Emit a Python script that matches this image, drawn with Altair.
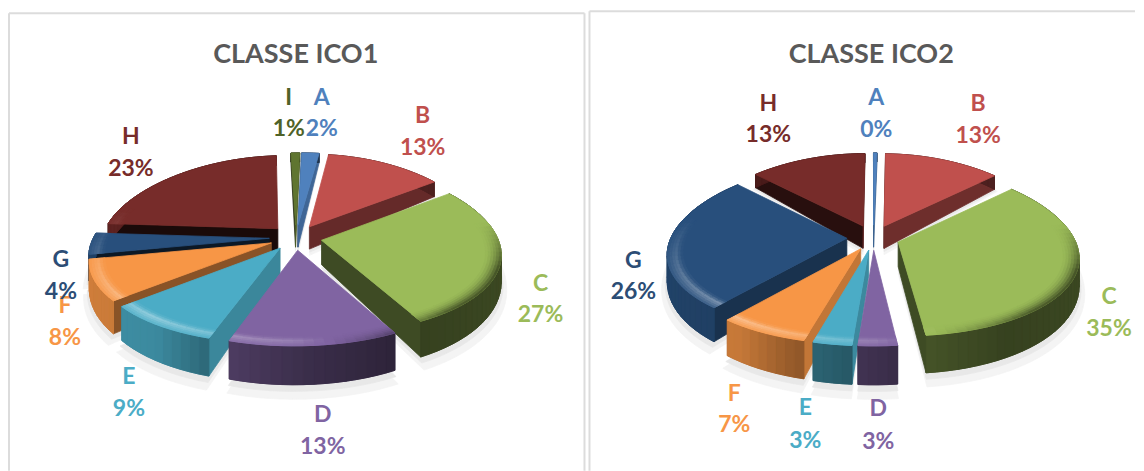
import math
import altair as alt
import pandas as pd

# ---- data ----
categories_1 = ["A", "B", "C", "D", "E", "F", "G", "H", "I"]
values_1 = [2, 13, 27, 13, 9, 8, 4, 23, 1]
categories_2 = ["A", "B", "C", "D", "E", "F", "G", "H"]
values_2 = [0.4, 13, 35, 3, 3, 7, 26, 13]
titles = ["CLASSE ICO1", "CLASSE ICO2"]

# ---- styles ----
colors = {"A": "#4f81bd", "B": "#c0504d", "C": "#9bbb59", "D": "#8064a2", "E": "#4bacc6",
          "F": "#f79646", "G": "#284f7c", "H": "#772c2a", "I": "#5f7530"}
text_colors = dict(colors, G="#2c4d75", I="#4f6228")
title_color = "#595959"
border_color = "#dcdcdc"
FONT = "Lato"

# label anchors (page pixels): category line centre; the percentage sits below it
label_pos_1 = {"A": (322, 98, 129), "B": (423, 116, 148), "C": (541, 284, 315), "D": (323, 415, 447),
               "E": (129, 377, 409), "F": (65, 306, 338), "G": (61, 260, 292), "H": (131, 137, 169),
               "I": (289, 98, 129)}
label_pos_2 = {"A": (877, 98, 130), "B": (979, 104, 136), "C": (1110, 297, 329), "D": (879, 409, 442),
               "E": (806, 408, 441), "F": (735, 394, 425), "G": (634, 261, 292), "H": (769, 104, 135)}

# geometry of the tilted pie
R, EXPL = 176.0, 0.15
CY = 237.5


def mix(c, other, t):
    a = [int(c[i:i + 2], 16) for i in (1, 3, 5)]
    b = [int(other[i:i + 2], 16) for i in (1, 3, 5)]
    return "#" + "".join(f"{round(x + (y - x) * t):02x}" for x, y in zip(a, b))


def interp(v, xs, ys):
    if v <= xs[0]:
        return ys[0]
    for i in range(1, len(xs)):
        if v <= xs[i]:
            return ys[i - 1] + (ys[i] - ys[i - 1]) * (v - xs[i - 1]) / (xs[i] - xs[i - 1])
    return ys[-1]


def proj(cx, x, y, z=0.0, skew=0.0):
    s = 1 + 0.18 * y
    sy = CY + 84 * y + 9 * y * y
    depth = 24 + 13 * y
    return [round(cx + x * R * s + skew * y, 2), round(sy + z * depth, 2)]


def polar(a, r=1.0):
    t = math.radians(a)
    return r * math.sin(t), -r * math.cos(t)


def feature(points, fill):
    ring = points + [points[0]]
    return {"type": "Feature", "properties": {"fill": fill},
            "geometry": {"type": "Polygon", "coordinates": [ring]}}


def arc_angles(a0, a1):
    n = max(2, int((a1 - a0) / 3) + 1)
    return [a0 + (a1 - a0) * i / n for i in range(n + 1)]


def wall_shade(m):
    return interp(m, [0, 90, 150, 175, 198, 215, 260, 300, 360],
                  [.4, .4, .35, .45, .6, .8, .85, .7, .4])


def slice_shapes(cats, vals, cx, skew):
    total = sum(vals)
    slices, acc = [], 0.0
    for c, v in zip(cats, vals):
        a0, a1 = acc / total * 360, (acc + v) / total * 360
        acc += v
        slices.append((c, a0, a1))
    slices.sort(key=lambda s: -math.cos(math.radians((s[1] + s[2]) / 2)))

    shadow, shapes = [], []
    for c, a0, a1 in slices:
        mid = (a0 + a1) / 2
        ox, oy = polar(mid, EXPL)
        angs = arc_angles(a0, a1)
        tip = (ox, oy)

        def pt(a, r=1.0, z=0.0):
            x, y = polar(a, r)
            return proj(cx, ox + x, oy + y, z, skew)

        def tp(z=0.0):
            return proj(cx, tip[0], tip[1], z, skew)

        # soft ground shadow
        for z, g, r in ((1.28, "#f4f4f4", 1.03), (1.14, "#e8e8e8", 1.01)):
            shadow.append(feature([tp(z)] + [pt(a, r, z) for a in angs], g))

        base = colors[c]
        # radial walls
        wall_f = lambda n: interp(n % 360, [90, 110, 145, 175, 190, 240, 360],
                                  [.8, .78, .52, .25, .2, .4, .4])
        for edge, normal in ((a0, a0 - 90), (a1, a1 + 90)):
            if math.cos(math.radians(normal)) < 0.05:
                fill = mix(base, "#000000", 1 - wall_f(normal))
                shapes.append(feature([tp(), pt(edge), pt(edge, 1, 1), tp(1)], fill))
        # outer wall: one solid piece underneath, then shaded by direction
        shapes.append(feature([pt(a) for a in angs] + [pt(a, 1, 1) for a in reversed(angs)],
                              mix(base, "#000000", 1 - wall_shade(mid))))
        for u, w in zip(angs[:-1], angs[1:]):
            m = (u + w) / 2
            shapes.append(feature([pt(u), pt(w), pt(w, 1, 1), pt(u, 1, 1)], mix(base, "#000000", 1 - wall_shade(m))))
        # top face
        shapes.append(feature([tp()] + [pt(a) for a in angs], base))
        # bevel along the front edge
        rings = [0.915, 0.93, 0.945, 0.96, 0.975, 0.99, 1.0]
        prof_up = [0.15, 0.5, 1.0, 0.8, 0.55, 0.35]
        prof_dn = [0.05, 0.15, 0.3, 0.5, 0.75, 1.0]
        for u, w in zip(angs[:-1], angs[1:]):
            m = (u + w) / 2
            shade = interp(m, [78, 110, 140, 165, 180, 220, 250, 285],
                           [0, -.55, -.5, -.1, .18, .38, .2, 0])
            if m < 78 or m > 285 or shade == 0:
                continue
            for k in range(6):
                r0, r1 = rings[k], rings[k + 1]
                if shade > 0:
                    fill = mix(base, "#ffffff", shade * prof_up[k])
                else:
                    fill = mix(base, "#000000", -shade * prof_dn[k])
                shapes.append(feature([pt(u, r0), pt(w, r0), pt(w, r1), pt(u, r1)], fill))
    return shadow + shapes


def pct(v):
    return f"{round(v)}%"


def panel(cats, vals, title, title_x, cx, skew, pos, origin, width, height, top, rule_xs):
    ox0, oy0 = origin
    fc = {"type": "FeatureCollection", "features": slice_shapes(cats, vals, cx - ox0, skew)}
    pie = alt.Chart(alt.InlineData(values=fc, format=alt.JsonDataFormat(property="features"))).mark_geoshape(
        strokeWidth=0.8
    ).encode(
        color=alt.Color("properties.fill:N", scale=None, legend=None),
        stroke=alt.Stroke("properties.fill:N", scale=None, legend=None),
    ).project(type="identity", scale=1, translate=[0, -oy0])

    rows = []
    for c, v in zip(cats, vals):
        x, y1, y2 = pos[c]
        rows.append({"t": c, "x": x - ox0, "y": y1 - oy0, "c": text_colors[c]})
        rows.append({"t": pct(v), "x": x - ox0, "y": y2 - oy0, "c": text_colors[c]})
    labels = alt.Chart(pd.DataFrame(rows)).mark_text(
        font=FONT, fontWeight="bold", fontSize=23, align="center", baseline="middle"
    ).encode(
        x=alt.X("x:Q", scale=None, axis=None),
        y=alt.Y("y:Q", scale=None, axis=None),
        text="t:N",
        color=alt.Color("c:N", scale=None, legend=None),
    )
    head = alt.Chart(pd.DataFrame({"t": [title], "x": [title_x - ox0], "y": [55 - oy0]})).mark_text(
        font=FONT, fontWeight="bold", fontSize=27, color=title_color, align="center", baseline="middle"
    ).encode(
        x=alt.X("x:Q", scale=None, axis=None),
        y=alt.Y("y:Q", scale=None, axis=None),
        text="t:N",
    )
    layers = [pie, labels, head]
    for rx in rule_xs:
        layers.append(alt.Chart(pd.DataFrame({"k": [0]})).mark_rule(color=border_color, strokeWidth=2).encode(
            x=alt.value(rx), y=alt.value(top), y2=alt.value(height)))
    x_end = rule_xs[-1] if len(rule_xs) > 1 else width
    layers.append(alt.Chart(pd.DataFrame({"k": [0]})).mark_rule(color=border_color, strokeWidth=2).encode(
        y=alt.value(top), x=alt.value(rule_xs[0]), x2=alt.value(x_end)))
    return alt.layer(*layers).properties(width=width, height=height)


left = panel(categories_1, values_1, titles[0], 296, 296, -4, label_pos_1, (8, 8), 578, 463, 5, [1, 577])
right = panel(categories_2, values_2, titles[1], 872, 874, 0, label_pos_2, (589, 8), 547, 463, 3, [1])

chart = alt.hconcat(left, right, spacing=3).properties(padding=0).configure_view(stroke=None)
chart.save("out.html", embed_options={"renderer": "svg", "actions": False})
